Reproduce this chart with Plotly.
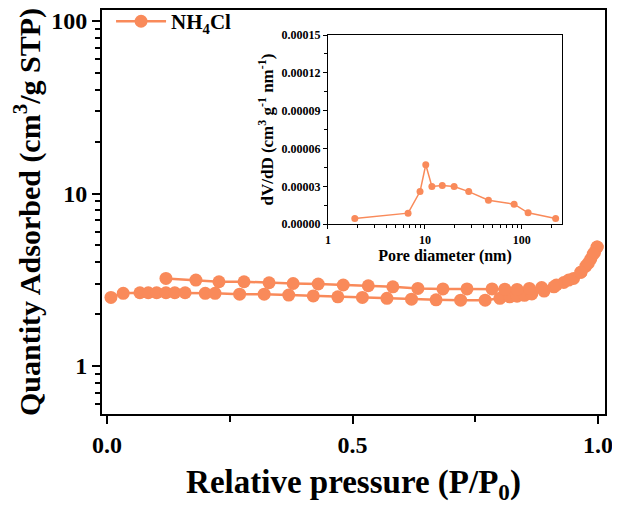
import plotly.graph_objects as go

# Main isotherm data (Relative pressure P/P0 vs Quantity adsorbed)
p_ads = [0.008, 0.033, 0.067, 0.084, 0.101, 0.120, 0.138, 0.159, 0.200, 0.220,
         0.27, 0.32, 0.37, 0.42, 0.47, 0.52, 0.57, 0.62, 0.67, 0.72, 0.77,
         0.80, 0.82, 0.835, 0.85, 0.865, 0.89, 0.91, 0.93, 0.95, 0.965,
         0.975, 0.985, 0.993, 0.998]
q_ads = [2.50, 2.64, 2.66, 2.66, 2.66, 2.66, 2.66, 2.66, 2.64, 2.64,
         2.61, 2.61, 2.58, 2.55, 2.52, 2.50, 2.47, 2.44, 2.42, 2.41, 2.41,
         2.47, 2.52, 2.54, 2.57, 2.62, 2.72, 2.88, 3.05, 3.22, 3.50,
         3.80, 4.17, 4.58, 4.90]
p_des = [0.998, 0.99, 0.98, 0.965, 0.94, 0.915, 0.885, 0.86, 0.835, 0.81,
         0.784, 0.733, 0.684, 0.633, 0.582, 0.532, 0.481, 0.430, 0.379,
         0.330, 0.279, 0.228, 0.181, 0.120]
q_des = [4.90, 4.45, 3.95, 3.50, 3.15, 2.95, 2.85, 2.82, 2.78, 2.79,
         2.80, 2.80, 2.80, 2.82, 2.88, 2.92, 2.95, 2.99, 3.01,
         3.04, 3.08, 3.08, 3.15, 3.22]

# Inset: pore size distribution
pore_d = [1.89, 6.7, 8.9, 10.2, 11.8, 15.1, 20.0, 28.3, 45.2, 83.2, 116, 223]
dvdd = [4.5e-6, 8.7e-6, 2.58e-5, 4.71e-5, 2.98e-5, 3.06e-5, 2.98e-5,
        2.58e-5, 1.90e-5, 1.58e-5, 9.0e-6, 4.5e-6]

x_ticks = [0.0, 0.5, 1.0]
x_ticklabels = ["<b>0.0</b>", "<b>0.5</b>", "<b>1.0</b>"]
y_ticks = [1, 10, 100]
y_ticklabels = ["<b>1</b>", "<b>10</b>", "<b>100</b>"]
in_x_ticks = [1, 10, 100]
in_y_ticks = [0, 0.00003, 0.00006, 0.00009, 0.00012, 0.00015]

COLOR = "#F98A5A"
FONT = "Liberation Serif"

fig = go.Figure()
fig.add_trace(go.Scatter(
    x=p_ads + p_des, y=q_ads + q_des, mode="lines+markers",
    name="<b>NH<sub>4</sub>Cl</b>",
    line=dict(color=COLOR, width=2.5),
    marker=dict(color=COLOR, size=13),
    xaxis="x", yaxis="y",
))
fig.add_trace(go.Scatter(
    x=pore_d, y=dvdd, mode="lines+markers", showlegend=False,
    line=dict(color=COLOR, width=1.5),
    marker=dict(color=COLOR, size=7),
    xaxis="x2", yaxis="y2",
))

fig.update_layout(
    width=612, height=501,
    margin=dict(l=94, r=15, t=2, b=95, autoexpand=False),
    paper_bgcolor="white", plot_bgcolor="white",
    font=dict(family=FONT, color="black"),
    showlegend=True,
    legend=dict(x=0.018, y=1.022, xanchor="left", yanchor="top",
                bgcolor="rgba(0,0,0,0)", font=dict(size=21, family=FONT),
                itemwidth=50),
    xaxis=dict(
        automargin=False,
        range=[-0.0102, 1.014], tickvals=x_ticks, ticktext=x_ticklabels,
        ticks="outside", ticklen=8, tickwidth=2, tickcolor="black",
        showline=True, linewidth=2, linecolor="black", mirror=True,
        showgrid=False, zeroline=False,
        tickfont=dict(size=24, family=FONT),
        minor=dict(tickvals=[0.25, 0.75], ticks="outside", ticklen=6,
                   tickwidth=2, tickcolor="black"),
        title=dict(text="<b>Relative pressure (P/P<sub>0</sub>)</b>",
                   font=dict(size=33, family=FONT), standoff=13),
    ),
    yaxis=dict(
        automargin=False,
        type="log", range=[-0.278, 2.064], tickvals=y_ticks, ticktext=y_ticklabels,
        ticks="outside", ticklen=8, tickwidth=2, tickcolor="black",
        showline=True, linewidth=2, linecolor="black", mirror=True,
        showgrid=False, zeroline=False,
        tickfont=dict(size=24, family=FONT),
        minor=dict(ticks="outside", ticklen=5, tickwidth=1.5, tickcolor="black",
                   dtick="D1", showgrid=False),
        title=dict(text="<b>Quantity Adsorbed (cm<sup>3</sup>/g STP)</b>",
                   font=dict(size=30, family=FONT), standoff=6),
    ),
    xaxis2=dict(
        automargin=False,
        type="log", range=[0, 2.414], domain=[0.4493, 0.9145], anchor="y2",
        tickvals=in_x_ticks, ticktext=["<b>1</b>", "<b>10</b>", "<b>100</b>"],
        ticks="outside", ticklen=4, tickwidth=1, tickcolor="black",
        showline=True, linewidth=1.2, linecolor="black", mirror=True,
        showgrid=False, zeroline=False,
        tickfont=dict(size=12, family=FONT),
        minor=dict(ticks="outside", ticklen=2.5, tickwidth=1, tickcolor="black",
                   dtick="D1", showgrid=False),
        title=dict(text="<b>Pore diameter (nm)</b>",
                   font=dict(size=16, family=FONT), standoff=1),
    ),
    yaxis2=dict(
        automargin=False,
        range=[0, 0.00015], domain=[0.470, 0.938], anchor="x2",
        tickvals=in_y_ticks,
        ticktext=["<b>%.5f</b>" % v for v in in_y_ticks],
        ticks="outside", ticklen=4, tickwidth=1, tickcolor="black",
        showline=True, linewidth=1.2, linecolor="black", mirror=True,
        showgrid=False, zeroline=False,
        tickfont=dict(size=12, family=FONT),
        minor=dict(dtick=0.000015, ticks="outside", ticklen=2.5, tickwidth=1,
                   tickcolor="black", showgrid=False),
        title=dict(text="<b>dV/dD (cm<sup>3</sup> g<sup>-1</sup> nm<sup>-1</sup>)</b>",
                   font=dict(size=17, family=FONT), standoff=3),
    ),
)

fig.write_html("out.html")
